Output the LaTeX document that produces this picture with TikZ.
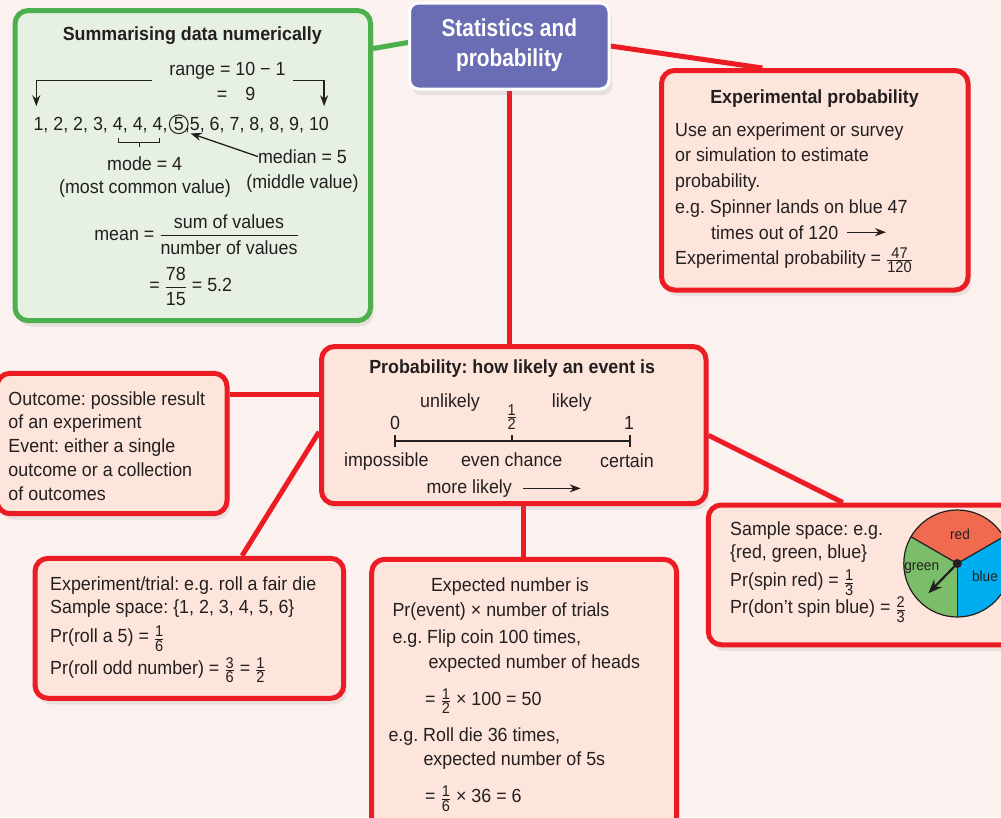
\documentclass[tikz,border=0pt]{standalone}
\usepackage{amsmath}
\usepackage{fontspec}
\setmainfont{Liberation Sans}[FakeStretch=0.94]
\newfontfamily\topicfont{Liberation Sans}[FakeStretch=0.85]
\usetikzlibrary{arrows.meta, shadows}
\frenchspacing

\definecolor{paper}{HTML}{FBF1EE}
\definecolor{ink}{HTML}{231F20}
\definecolor{boxred}{HTML}{EC1C24}
\definecolor{boxfill}{HTML}{FDE5DC}
\definecolor{boxgreen}{HTML}{4DAF4E}
\definecolor{greenfill}{HTML}{E7F1E3}
\definecolor{topicblue}{HTML}{6A6DB3}
\definecolor{spinred}{HTML}{F06A4F}
\definecolor{spingreen}{HTML}{7BBE6A}
\definecolor{spinblue}{HTML}{00AEEF}

\pgfdeclarelayer{bg}
\pgfsetlayers{bg,main}

\newcommand{\smallfr}[2]{\raisebox{-1pt}{$\genfrac{}{}{0.9pt}{1}%
  {\text{\fontsize{15.5}{15.5}\selectfont #1}}%
  {\text{\fontsize{15.5}{15.5}\selectfont #2}}$}}
\newcommand{\bigfr}[2]{$\genfrac{}{}{1.5pt}{0}{\text{#1}}{\text{#2}}$}

\begin{document}
\begin{tikzpicture}[
  x = 1pt, y = -1pt,
  every node/.style = {font=\fontsize{19}{23}\selectfont, text=ink,
                       inner sep=0pt, anchor=base west},
  mid/.style = {anchor=base},
  head/.style = {anchor=base, font=\fontsize{19}{23}\selectfont\bfseries},
  topictxt/.style = {anchor=base, text=white,
                     font=\topicfont\bfseries\fontsize{24.5}{28}\selectfont},
  box/.style = {anchor=center, draw=boxred, line width=5pt, fill=boxfill,
                rounded corners=13pt,
                drop shadow={shadow xshift=3pt, shadow yshift=-6pt, opacity=.15}},
  link/.style = {draw=boxred, line width=5pt},
  arr/.style = {-{Stealth[length=11pt, width=8pt]}, line width=1.3pt, draw=ink},
  spin/.style = {anchor=center, font=\fontsize{14.5}{16}\selectfont},
]

\begin{pgfonlayer}{bg}
  \fill[paper] (0,0) rectangle (1001,817);
\end{pgfonlayer}
\path[use as bounding box] (0,0) rectangle (1001,817);

\node[box, draw=boxgreen, fill=greenfill,
      minimum width=355.5pt, minimum height=310pt] (stats) at (192.8,165.6) {};
\node[box, draw=white, line width=3pt, fill=topicblue, rounded corners=9pt,
      minimum width=199.5pt, minimum height=86pt] (topic) at (509.3,46) {};
\node[box, minimum width=306.5pt, minimum height=219.5pt] (expt) at (814.75,180.25) {};
\node[box, minimum width=384.5pt, minimum height=157.2pt] (prob) at (513.75,425.1) {};
\node[box, minimum width=230pt, minimum height=140.4pt] (outc) at (112,443.5) {};
\node[box, minimum width=308.7pt, minimum height=140pt] (trial) at (189.35,628.3) {};
\node[box, minimum width=305pt, minimum height=280.7pt] (expn) at (524.2,699.65) {};
\node[box, minimum width=321.7pt, minimum height=139.8pt] (samp) at (869.15,574.9) {};

\node[topictxt] (topic-1) at (509.3,36.7) {Statistics and};
\node[topictxt] (topic-2) at (509.3,66.7) {probability};

\node[head] (stats-t) at (192.3,40.7) {Summarising data numerically};
\node[mid] (range) at (227.5,75) {range = 10 − 1};
\node (rangev) at (216.7,100) {=\hspace{18pt}9};
\node (numa) at (33.3,130.7) {1, 2, 2, 3, 4, 4, 4,};
\node[circle, draw=ink, line width=1pt, inner sep=0.8pt, anchor=base] (five)
  at ([xshift=11pt]numa.base east) {5};
\node (numb) at ([xshift=6pt]five.base) {,5, 6, 7, 8, 8, 9, 10};
\coordinate (rl) at (151.7,80.7);
\coordinate (rr) at (293.3,80.7);
\draw[arr] (rl) -| ([xshift=3pt, yshift=11pt]numa.north west);
\draw[arr] (rr) -| ([xshift=-5pt, yshift=11pt]numb.north east);
\draw[ink, line width=1.3pt] (118.3,138) |- (159.3,142.7) -- (159.3,138);
\draw[ink, line width=1.3pt] (139.3,142.7) -- (139.3,147);
\node[mid] (mode) at (144.7,170) {mode = 4};
\node[mid] (modec) at (145,193.5) {(most common value)};
\node[mid] (med) at (302.5,163.3) {median = 5};
\node[mid] (medc) at (302.5,188.3) {(middle value)};
\draw[arr] (med.west) -- ([xshift=4pt, yshift=-3pt]five.322);
\node[mid] (mean) at (196.5,240) {mean = \bigfr{sum of values}{number of values}};
\node[mid] (meanv) at (190.7,291.7) {= \bigfr{78}{15} = 5.2};

\node[head] (expt-t) at (814.5,103.3) {Experimental probability};
\node (expt-1) at (675,136) {Use an experiment or survey};
\node (expt-2) at (675,161.7) {or simulation to estimate};
\node (expt-3) at (675,187.7) {probability.};
\node (expt-4) at (675,213.3) {e.g. Spinner lands on blue 47};
\node (expt-5) at (711,239) {times out of 120};
\node (expt-6) at (675,264) {Experimental probability = \smallfr{47}{120}};
\coordinate (tend) at (886,0);
\draw[arr, line width=1.1pt] ([xshift=9pt]expt-5.east) -- (expt-5.east -| tend);

\node[head] (prob-t) at (512.2,373.3) {Probability: how likely an event is};
\node[mid] (unl) at (450,407.3) {unlikely};
\node[mid] (lik) at (571.7,407.3) {likely};
\node[mid] (zero) at (395,429) {0};
\node[mid] (one) at (629,429) {1};
\node[mid] (half) at (511.7,420.8) {\smallfr{1}{2}};
\draw[ink, line width=1.6pt] (395,440.7) -- (630,440.7);
\draw[ink, line width=1.6pt] (395,435) -- (395,446.7);
\draw[ink, line width=1.6pt] (630,435) -- (630,446.7);
\draw[ink, line width=1.6pt] (511.7,435) -- (511.7,440.7);
\node[mid] (imp) at (386.3,466) {impossible};
\node[mid] (even) at (511.7,466) {even chance};
\node[mid] (cert) at (627,467.5) {certain};
\node[mid] (more) at (469.2,493.3) {more likely};
\coordinate (mend) at (580.7,0);
\draw[arr, line width=1.1pt] ([xshift=11pt]more.east) -- (more.east -| mend);

\node (outc-1) at (8.3,405) {Outcome: possible result};
\node (outc-2) at (8.3,428.3) {of an experiment};
\node (outc-3) at (8.3,452.7) {Event: either a single};
\node (outc-4) at (8.3,476) {outcome or a collection};
\node (outc-5) at (8.3,500) {of outcomes};

\node (trial-1) at (50,590) {Experiment/trial: e.g. roll a fair die};
\node (trial-2) at (50,613.3) {Sample space: \{1, 2, 3, 4, 5, 6\}};
\node (trial-3) at (50,642.7) {Pr(roll a 5) = \smallfr{1}{6}};
\node (trial-4) at (50,674) {Pr(roll odd number) = \smallfr{3}{6} = \smallfr{1}{2}};

\node[mid] (expn-1) at (510,591.7) {Expected number is};
\node (expn-2) at (392.3,616.7) {Pr(event) × number of trials};
\node (expn-3) at (392.3,643.3) {e.g. Flip coin 100 times,};
\node (expn-4) at (428.3,668.3) {expected number of heads};
\node (expn-5) at (425,705) {= \smallfr{1}{2} × 100 = 50};
\node (expn-6) at (388.3,741.7) {e.g. Roll die 36 times,};
\node (expn-7) at (423.3,765) {expected number of 5s};
\node (expn-8) at (425,802.7) {= \smallfr{1}{6} × 36 = 6};

\node (samp-1) at (730,535) {Sample space: e.g.};
\node (samp-2) at (730,558.3) {\{red, green, blue\}};
\node (samp-3) at (730,586.7) {Pr(spin red) = \smallfr{1}{3}};
\node (samp-4) at (730,613.3) {Pr(don’t spin blue) = \smallfr{2}{3}};

\coordinate (hub) at (957.3,563.5);
\fill[spinred]   (hub) -- ++(-30:53.5)  arc[start angle=-30,  end angle=-150, radius=53.5] -- cycle;
\fill[spingreen] (hub) -- ++(-150:53.5) arc[start angle=-150, end angle=-270, radius=53.5] -- cycle;
\fill[spinblue]  (hub) -- ++(-270:53.5) arc[start angle=-270, end angle=-390, radius=53.5] -- cycle;
\foreach \a in {-30,-150,-270}
  \draw[ink, line width=1.2pt] (hub) -- ++(\a:53.5);
\draw[ink, line width=1.2pt] (hub) circle[radius=53.5];
\node[spin] (lred)   at (960,534.3) {red};
\node[spin] (lgreen) at (921.7,567.7) {green};
\node[spin] (lblue)  at (985,576) {blue};
\coordinate (tip) at (928.3,593.3);
\draw[-{Stealth[length=14pt, width=11pt]}, line width=2.2pt, ink] (hub) -- (tip);
\fill[ink] (hub) circle[radius=4.5];

\begin{pgfonlayer}{bg}
  \draw[link, draw=boxgreen] (stats.33) -- (topic.178);
  \draw[link] (topic.east) -- (expt.115);
  \draw[link] (topic.south) -- (topic.south |- prob.north);
  \draw[link] (prob.171) -- (prob.171 -| outc.east);
  \draw[link] (prob.277) -- (prob.277 |- expn.north);
  \foreach \p/\c in {prob.182/trial.54, prob.357/samp.110}
    \draw[link] (\p) -- (\c);
\end{pgfonlayer}

\end{tikzpicture}
\end{document}
